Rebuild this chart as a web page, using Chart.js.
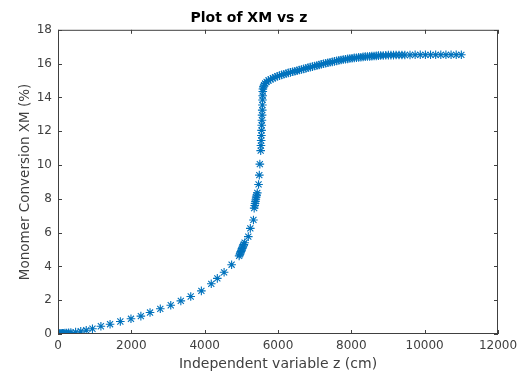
<!DOCTYPE html>
<html>
<head>
<meta charset="utf-8">
<script src="https://cdn.jsdelivr.net/npm/chart.js@4.4.1/dist/chart.umd.min.js"></script>
<style>
  html, body { margin: 0; padding: 0; background: #fff; }
  #wrap { width: 526px; height: 376px; }
</style>
</head>
<body>
<div id="wrap"><canvas id="xmChart" width="526" height="376"></canvas></div>
<script>
// values: z (cm) and monomer conversion XM (%)
const zVals = [
    0, 8, 16, 25, 35, 48, 62, 80, 100, 125, 155, 190, 235, 290,
    350, 480, 620, 770, 940, 1170, 1420, 1700, 1990, 2260, 2510, 2790,
    3075, 3350, 3620, 3910, 4180, 4345, 4530, 4735,
    4940, 4960, 4975, 4990, 5005, 5020, 5035, 5050, 5070, 5090,
    5190, 5245, 5330,
    5350, 5365, 5375, 5385, 5395, 5405, 5420, 5435,
    5470, 5490, 5505,
    5528, 5535, 5541, 5547, 5552, 5557, 5562, 5566, 5570, 5574, 5578, 5582, 5585, 5588,
    5600, 5620, 5650, 5690, 5740, 5800, 5860, 5920, 5980, 6040, 6100, 6160,
    6220, 6280, 6340, 6400, 6460, 6520, 6580, 6640, 6700, 6760, 6820, 6880,
    6940, 7000, 7060, 7120, 7180, 7240, 7300, 7360, 7420, 7480, 7540, 7600,
    7660, 7720, 7780, 7840, 7900, 7960, 8020, 8080, 8140, 8200, 8260, 8320,
    8380, 8440, 8500, 8560, 8620, 8680, 8740, 8800, 8870, 8940, 9010, 9080,
    9150, 9220, 9300, 9380, 9460, 9600, 9740, 9880, 10020, 10160, 10300,
    10440, 10580, 10720, 10860, 11000
];
const xmVals = [
    0, 0.002, 0.004, 0.007, 0.01, 0.013, 0.017, 0.022, 0.028, 0.035, 0.042, 0.05, 0.06, 0.07,
    0.08, 0.11, 0.16, 0.22, 0.31, 0.46, 0.58, 0.74, 0.90, 1.06, 1.27, 1.49,
    1.70, 1.96, 2.22, 2.55, 2.97, 3.29, 3.65, 4.10,
    4.62, 4.72, 4.80, 4.88, 4.96, 5.05, 5.13, 5.21, 5.30, 5.40,
    5.76, 6.25, 6.75,
    7.45, 7.60, 7.72, 7.85, 7.97, 8.10, 8.22, 8.35,
    8.85, 9.40, 10.05,
    10.85, 11.15, 11.45, 11.75, 12.05, 12.35, 12.65, 12.95, 13.25, 13.55, 13.85, 14.10, 14.35, 14.50,
    14.62, 14.72, 14.82, 14.92, 15.00, 15.07, 15.13, 15.19, 15.25, 15.29, 15.33, 15.37,
    15.41, 15.45, 15.48, 15.52, 15.55, 15.58, 15.62, 15.65, 15.69, 15.72, 15.76, 15.79,
    15.82, 15.86, 15.89, 15.92, 15.96, 15.99, 16.02, 16.05, 16.08, 16.10, 16.13, 16.16,
    16.19, 16.21, 16.24, 16.26, 16.28, 16.30, 16.32, 16.34, 16.35, 16.37, 16.38, 16.40,
    16.41, 16.42, 16.43, 16.44, 16.45, 16.46, 16.47, 16.48, 16.48, 16.49, 16.50, 16.50,
    16.50, 16.51, 16.51, 16.51, 16.51, 16.51, 16.52, 16.52, 16.52, 16.52, 16.52,
    16.52, 16.52, 16.52, 16.52, 16.52
];
const xTicks = [0, 2000, 4000, 6000, 8000, 10000, 12000];
const yTicks = [0, 2, 4, 6, 8, 10, 12, 14, 16, 18];

const AXIS_COLOR = '#404040';
const MARKER_COLOR = '#0072BD';
const FONT = '"DejaVu Sans", sans-serif';

// MATLAB-style box with ticks pointing inward on all four sides
const boxPlugin = {
    id: 'matlabBox',
    afterDraw(chart) {
        const { ctx, chartArea: a, scales } = chart;
        const len = 4;
        ctx.save();
        ctx.strokeStyle = AXIS_COLOR;
        ctx.lineWidth = 1;
        ctx.strokeRect(a.left + 0.5, a.top + 0.5, a.right - a.left - 1, a.bottom - a.top - 1);
        ctx.beginPath();
        xTicks.forEach(v => {
            const px = Math.round(scales.x.getPixelForValue(v)) + 0.5;
            ctx.moveTo(px, a.bottom); ctx.lineTo(px, a.bottom - len);
            ctx.moveTo(px, a.top); ctx.lineTo(px, a.top + len);
        });
        yTicks.forEach(v => {
            const py = Math.round(scales.y.getPixelForValue(v)) + 0.5;
            ctx.moveTo(a.left, py); ctx.lineTo(a.left + len, py);
            ctx.moveTo(a.right, py); ctx.lineTo(a.right - len, py);
        });
        ctx.stroke();
        ctx.restore();
    }
};

const points = zVals.map((z, i) => ({ x: z, y: xmVals[i] }));

new Chart(document.getElementById('xmChart'), {
    type: 'scatter',
    data: {
        datasets: [{
            data: points,
            pointStyle: 'star',
            pointRadius: 4.3,
            pointHoverRadius: 4.3,
            borderWidth: 1.1,
            borderColor: MARKER_COLOR,
            backgroundColor: MARKER_COLOR
        }]
    },
    options: {
        responsive: false,
        animation: false,
        devicePixelRatio: 1,
        layout: { padding: { left: 0, right: 28, top: 0, bottom: 0 } },
        plugins: {
            legend: { display: false },
            tooltip: { enabled: false },
            title: {
                display: true,
                text: 'Plot of XM vs z',
                color: '#000',
                font: { family: FONT, size: 14, weight: 'bold' },
                padding: { top: 10, bottom: 3 }
            }
        },
        scales: {
            x: {
                type: 'linear',
                min: 0,
                max: 12000,
                afterFit: s => { s.height = 42; },
                afterBuildTicks: s => { s.ticks = xTicks.map(v => ({ value: v })); },
                grid: { display: false, drawTicks: false },
                border: { display: false },
                ticks: {
                    color: AXIS_COLOR,
                    padding: 5,
                    maxRotation: 0,
                    font: { family: FONT, size: 12 },
                    callback: v => String(v)
                },
                title: {
                    display: true,
                    text: 'Independent variable z (cm)',
                    color: AXIS_COLOR,
                    font: { family: FONT, size: 14 },
                    padding: { top: 0, bottom: 3 }
                }
            },
            y: {
                type: 'linear',
                min: 0,
                max: 18,
                afterFit: s => { s.width = 58; },
                afterBuildTicks: s => { s.ticks = yTicks.map(v => ({ value: v })); },
                grid: { display: false, drawTicks: false },
                border: { display: false },
                ticks: {
                    color: AXIS_COLOR,
                    padding: 6,
                    font: { family: FONT, size: 12 },
                    callback: v => String(v)
                },
                title: {
                    display: true,
                    text: 'Monomer Conversion XM (%)',
                    color: AXIS_COLOR,
                    font: { family: FONT, size: 13.5 },
                    padding: { top: 17, bottom: 0 }
                }
            }
        }
    },
    plugins: [boxPlugin]
});
</script>
</body>
</html>
